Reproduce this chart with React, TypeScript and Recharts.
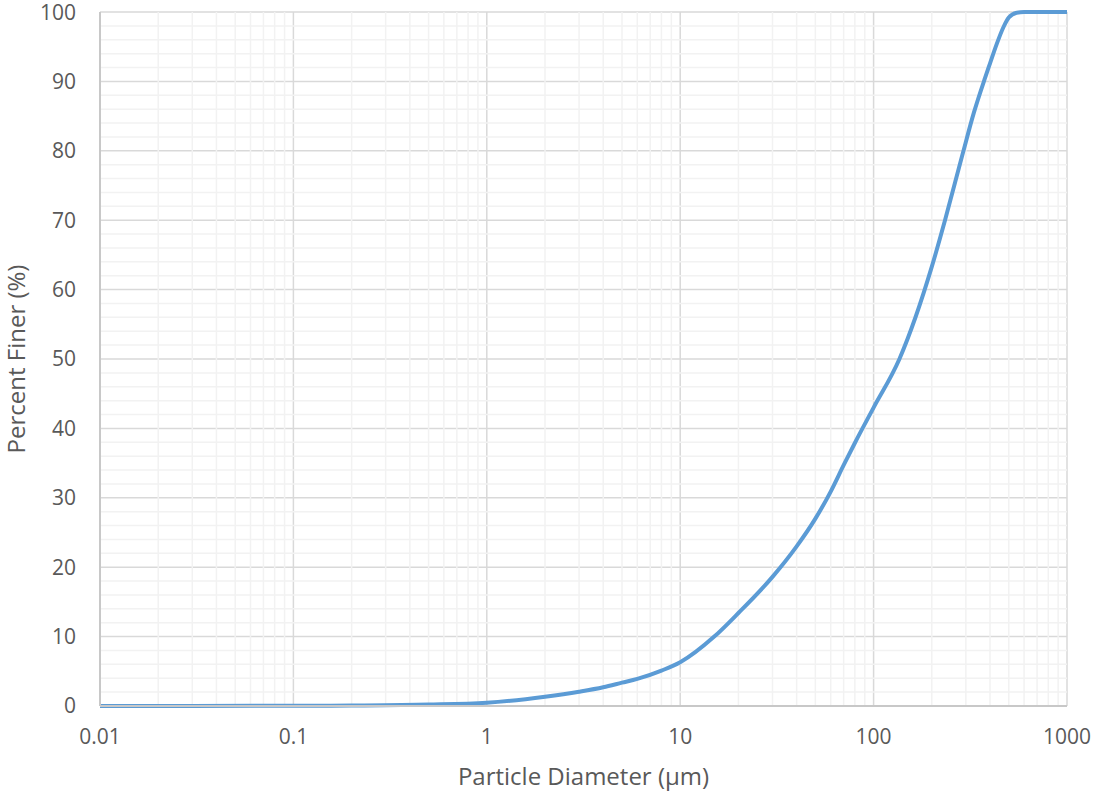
import { CartesianGrid, Label, Line, LineChart, ReferenceLine, XAxis, YAxis } from "recharts";

// particle diameter (µm) vs cumulative percent finer
const diameters = [0.01, 0.03, 0.1, 0.2, 0.5, 1, 2, 3, 4, 5, 6, 8, 10, 15, 20, 30, 40, 50, 60, 70, 80, 100, 136, 200, 234, 289, 330, 377, 400, 432, 469, 500, 549, 600, 1000];
const percentFiner = [0, 0.01, 0.03, 0.07, 0.2, 0.47, 1.34, 2.06, 2.7, 3.36, 3.9, 5.1, 6.3, 10, 13.4, 18.6, 23, 27, 30.9, 34.7, 37.9, 43, 50, 63.3, 70, 79.6, 85.5, 90.5, 92.6, 95.3, 97.8, 99.2, 99.9, 100, 100];

const xTicks = [0.01, 0.1, 1, 10, 100, 1000];
const yTicks = [0, 10, 20, 30, 40, 50, 60, 70, 80, 90, 100];
const xMinor = [0.01, 0.1, 1, 10, 100].flatMap((d) => [2, 3, 4, 5, 6, 7, 8, 9].map((m) => +(d * m).toPrecision(3)));
const yMinor = [2, 4, 6, 8].flatMap((m) => [0, 10, 20, 30, 40, 50, 60, 70, 80, 90].map((t) => t + m));

const data = diameters.map((d, i) => ({ d, p: percentFiner[i] }));

const FONT = "'Open Sans', sans-serif";
const TEXT = "#595959";

export default function App() {
  return (
    <div style={{ position: "absolute", left: 0, top: 0 }}>
      <LineChart width={1095} height={791} data={data} margin={{ top: 12, right: 28, bottom: 0, left: 0 }}>
        {xMinor.map((v) => (
          <ReferenceLine key={"x" + v} x={v} stroke="#f2f2f2" strokeWidth={1.5} ifOverflow="hidden" />
        ))}
        {yMinor.map((v) => (
          <ReferenceLine key={"y" + v} y={v} stroke="#f2f2f2" strokeWidth={1.5} />
        ))}
        <CartesianGrid stroke="#d9d9d9" strokeWidth={1.5} />
        <XAxis
          dataKey="d"
          type="number"
          scale="log"
          domain={[0.01, 1000]}
          ticks={xTicks}
          allowDataOverflow
          height={85}
          tickSize={0}
          tickMargin={23}
          tick={{ fontSize: 21, fill: TEXT, fontFamily: FONT }}
          axisLine={{ stroke: "#c8c8c8", strokeWidth: 2 }}
          tickLine={false}
        >
          <Label value="Particle Diameter (µm)" position="insideBottom" offset={6} style={{ fontSize: 24, fill: TEXT, fontFamily: FONT }} />
        </XAxis>
        <YAxis
          type="number"
          domain={[0, 100]}
          ticks={yTicks}
          width={100}
          tickSize={0}
          tickMargin={24}
          tick={{ fontSize: 21, fill: TEXT, fontFamily: FONT }}
          axisLine={{ stroke: "#c8c8c8", strokeWidth: 2 }}
          tickLine={false}
        >
          <Label value="Percent Finer (%)" angle={-90} position="insideLeft" offset={16} style={{ fontSize: 24, fill: TEXT, fontFamily: FONT, textAnchor: "middle" }} />
        </YAxis>
        <Line type="monotone" dataKey="p" stroke="#5b9bd5" strokeWidth={4} dot={false} isAnimationActive={false} />
      </LineChart>
    </div>
  );
}
